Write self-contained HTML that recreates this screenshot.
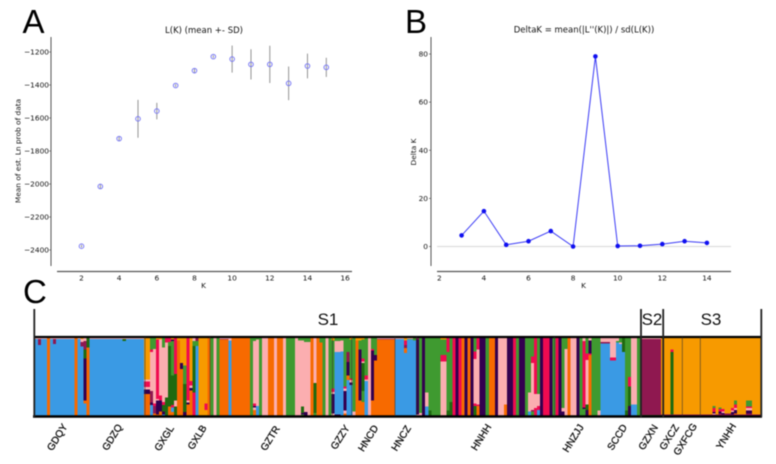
<!DOCTYPE html>
<html>
<head>
<meta charset="utf-8">
<style>
html,body{margin:0;padding:0;background:#fff;}
svg{display:block;filter:blur(0.4px);}
.ax{font-family:"DejaVu Sans",sans-serif;font-size:7.4px;fill:#111;}
.ttl{font-family:"DejaVu Sans",sans-serif;font-size:8.5px;fill:#111;}
.big{font-family:"Liberation Sans",sans-serif;font-size:33px;fill:#000;}
.grp{font-family:"Liberation Sans",sans-serif;font-size:17px;fill:#111;}
.pop{font-family:"Liberation Sans",sans-serif;font-size:10px;fill:#111;text-anchor:middle;stroke:#111;stroke-width:0.3px;}
</style>
</head>
<body>
<svg id="fig" width="776" height="464" viewBox="0 0 776 464" xmlns="http://www.w3.org/2000/svg">
<rect width="776" height="464" fill="#fff"/>
<text class="big" x="22.5" y="33">A</text>
<text class="big" x="405" y="33">B</text>
<text class="big" x="23" y="303">C</text>
<text class="ttl" x="204" y="33" text-anchor="middle">L(K) (mean +- SD)</text>
<text class="ttl" x="584" y="32.5" text-anchor="middle">DeltaK = mean(|L''(K)|) / sd(L(K))</text>
<text class="ax" x="203.5" y="288" text-anchor="middle">K</text>
<text class="ax" x="583.5" y="288" text-anchor="middle">K</text>
<text class="ax" transform="translate(20.5,151) rotate(-90)" text-anchor="middle">Mean of est. Ln prob of data</text>
<text class="ax" transform="translate(416,152) rotate(-90)" text-anchor="middle">Delta K</text>
<g id="chartA"></g>
<g id="chartB"></g>
<g id="chartC"></g>
<g fill="none" stroke="#000">
<line x1="34" y1="337" x2="762" y2="337" stroke-width="2.2"/>
<line x1="33" y1="416.5" x2="762" y2="416.5" stroke-width="2.6"/>
<line x1="34.3" y1="309" x2="34.3" y2="417" stroke-width="1.8" stroke="#222"/>
<line x1="641" y1="309" x2="641" y2="417" stroke-width="1.8" stroke="#222"/>
<line x1="663.2" y1="309" x2="663.2" y2="417" stroke-width="1.8" stroke="#222"/>
<line x1="761.3" y1="309" x2="761.3" y2="417" stroke-width="1.8" stroke="#222"/>
<g stroke="#333" stroke-width="0.7" opacity="0.8">
<line x1="145" y1="337" x2="145" y2="416"/>
<line x1="210" y1="337" x2="210" y2="416"/>
<line x1="332.5" y1="337" x2="332.5" y2="416"/>
<line x1="351.7" y1="337" x2="351.7" y2="416"/>
<line x1="395" y1="337" x2="395" y2="416"/>
<line x1="416.7" y1="337" x2="416.7" y2="416"/>
<line x1="554.5" y1="337" x2="554.5" y2="416"/>
<line x1="682.3" y1="337" x2="682.3" y2="416"/>
<line x1="700.3" y1="337" x2="700.3" y2="416"/>
</g>
</g>
<text class="grp" x="328" y="325" text-anchor="middle">S1</text>
<text class="grp" x="652" y="325" text-anchor="middle">S2</text>
<text class="grp" x="711" y="325" text-anchor="middle">S3</text>
<g>
<text class="pop" transform="translate(60,439) rotate(-58)">GDQY</text>
<text class="pop" transform="translate(115,439) rotate(-58)">GDZQ</text>
<text class="pop" transform="translate(167,440) rotate(-58)">GXGL</text>
<text class="pop" transform="translate(200,439) rotate(-58)">GXLB</text>
<text class="pop" transform="translate(273,440) rotate(-58)">GZTR</text>
<text class="pop" transform="translate(343,439) rotate(-58)">GZZY</text>
<text class="pop" transform="translate(371,440) rotate(-58)">HNCD</text>
<text class="pop" transform="translate(404,440) rotate(-58)">HNCZ</text>
<text class="pop" transform="translate(484,439) rotate(-58)">HNHH</text>
<text class="pop" transform="translate(576,440) rotate(-58)">HNZJJ</text>
<text class="pop" transform="translate(620,439) rotate(-58)">SCCD</text>
<text class="pop" transform="translate(651,439) rotate(-58)">GZXN</text>
<text class="pop" transform="translate(672,439) rotate(-58)">GXCZ</text>
<text class="pop" transform="translate(688,441) rotate(-58)">GXFCG</text>
<text class="pop" transform="translate(729,438) rotate(-58)">YNHH</text>
</g>
</svg>
<script>
const kValuesA = [2,3,4,5,6,7,8,9,10,11,12,13,14,15];
const meanLnProb = [-2377,-2015,-1725,-1605,-1558,-1403,-1313,-1228,-1243,-1275,-1275,-1390,-1285,-1293];
const sdLnProb = [8,15,12,115,50,8,12,8,82,92,113,102,75,58];
const xTicksA = [2,4,6,8,10,12,14,16];
const yTicksA = [-1200,-1400,-1600,-1800,-2000,-2200,-2400];

const kValuesB = [3,4,5,6,7,8,9,10,11,12,13,14];
const deltaK = [4.6,14.7,0.7,2.2,6.4,0,79,0.2,0.3,1,2.2,1.5];
const xTicksB = [2,4,6,8,10,12,14];
const yTicksB = [0,20,40,60,80];

/* each run: number of individuals, then ancestry percentages listed from the top of the bar */
const runsGdqyGdzq = [[1,'p1 b99'],[1,'p1 m8 b91'],[2,'p1 b99'],[1,'o100'],[1,'p1 b99'],[1,'p1 m7 b92'],[6,'p1 b99'],[1,'o100'],[1,'p1 b99'],[1,'y1 p4 m6 b89'],[1,'p4 m11 d11 n54 o4 b16'],[1,'d12 o88'],[11,'p1.5 b98.5'],[1,'p1 d3 b96'],[6,'p1 b99']];
const runsGxglGxlb = [[2,'y53 p3 r7 p3 n6 o28'],[1,'g15 r3 p50 m15 n3 b14'],[1,'g14 p70 r3 m10 o3'],[1,'y2 r76 p2 n18 o2'],[1,'y2 p72 r6 n14 o6'],[1,'g12 p70 r4 d8 n4 b2'],[1,'r6 p70 d24'],[1,'r5 g5 d78 o12'],[1,'y2 n2 g44 d38 r3 b6 o5'],[1,'r46 d34 p8 d12'],[1,'y3 o97'],[1,'y32 n8 o60'],[1,'y35 g24 d36 n5'],[1,'r80 p3 n2 o15'],[1,'y55 r6 p3 n3 o33'],[1,'p4 g6 d60 r30'],[1,'m4 g6 b90'],[2,'y100'],[1,'y84 r8 y8'],[1,'o100']];
const runsGztr = [[1,'g100'],[1,'p100'],[1,'g100'],[3,'p1 m1 o98'],[1,'p3 b97'],[6,'o100'],[1,'g100'],[1,'g4 p80 r3 n2 p3 o8'],[1,'g2 p85 b13'],[1,'g100'],[2,'p100'],[2,'o100'],[1,'p100'],[2,'o100'],[1,'p100'],[2,'g100'],[1,'g100'],[1,'p100'],[1,'g3 p97'],[1,'g3 p85 d8 n2 g2'],[1,'g5 p90 n5'],[1,'g5 p95'],[1,'o100'],[1,'p58 d38 g4'],[1,'o100'],[1,'g6 o94'],[1,'g100'],[1,'p100'],[1,'g100']];
const runsGzzyHncd = [[1,'y3 g62 r4 p3 n25 p3'],[2,'g4 p14 b80 n2'],[1,'g3 p14 b83'],[1,'g62 r3 p3 n25 p4 o3'],[1,'g18 m13 n17 o6 b46'],[1,'y2 g50 r2 p3 n3 b40'],[1,'g94 p6'],[1,'y3 o97'],[1,'y3 g12 n65 o20'],[1,'y2 g24 r4 p2 d36 g14 o18'],[1,'g48 r5 p2 b45'],[1,'p100'],[1,'g14 r2 n64 o20'],[1,'g22 n7 o71'],[6,'p1 m1 o98']];
const runsHncz = [[3,'p1 b99'],[1,'y3 r6 m4 o6 b81'],[2,'p1 g1 b98'],[1,'g3 b97']];
const runsHnhh = [[1,'m2 n96 p2'],[1,'g96 p4'],[1,'n100'],[1,'g70 p18 b12'],[1,'g93 d7'],[3,'g100'],[2,'y2 g20 r8 p70'],[1,'r18 g75 d7'],[1,'g82 d18'],[1,'r100'],[1,'n100'],[1,'r100'],[1,'o100'],[1,'n100'],[1,'o100'],[1,'n100'],[1,'g17 r10 p57 r3 d13'],[1,'r15 p70 r2 o13'],[2,'n100'],[1,'g100'],[2,'o100'],[1,'n100'],[2,'p100'],[1,'p85 o15'],[2,'n100'],[1,'r100'],[1,'g100'],[2,'n100'],[1,'g100'],[1,'g70 p24 b6'],[1,'g24 r8 p60 m2 g6'],[1,'r72 p18 r10'],[1,'g72 p15 r5 b8'],[1,'n100'],[2,'r100'],[1,'n100']];
const runsHnzjjSccd = [[1,'g100'],[1,'r100'],[1,'n100'],[1,'g90 p4 n6'],[1,'g14 p86'],[1,'o100'],[2,'p100'],[1,'n100'],[1,'g100'],[1,'p4 r85 n2 g9'],[1,'g20 r8 p57 d7 n8'],[1,'p3 n17 r2 o78'],[2,'g100'],[1,'g93 p7'],[3,'p5 m2 b93'],[2,'p25 r4 b71'],[1,'p4 g2 b94'],[1,'g6 p2 b92'],[1,'d18 b82'],[1,'g93 d7'],[1,'g50 r12 d25 n13'],[2,'p85 b15'],[1,'g100']];
const runsGzxn = [[7,'p1 m98 d1']];
const runsS3 = [[3,'y98 m2'],[1,'y15 r3 d80 m2'],[13,'y98 m2'],[1,'y87 g3 r5 n2 p1 m2'],[1,'y98 m2'],[1,'y89 g2 r3 n3 m3'],[1,'y91 r3 p2 n2 m2'],[2,'y97 m3'],[1,'y90 r3 p2 n3 m2'],[1,'y80 g5 r5 p2 n5 o1 m2'],[3,'y98 m2'],[2,'y80 g8 r2 p3 n4 m3'],[3,'y98 m2']];

const NS = 'http://www.w3.org/2000/svg';
function mk(parent, tag, attrs, txt) {
  const el = document.createElementNS(NS, tag);
  for (const k in attrs) el.setAttribute(k, attrs[k]);
  if (txt !== undefined) el.textContent = txt;
  parent.appendChild(el);
  return el;
}

/* panel A */
const xA = k => 81.5 + (k - 2) * 18.83;
const yA = v => 52 + (-1200 - v) * 0.165;
const gA = document.getElementById('chartA');
const spineAY = mk(gA, 'line', {x1:51, y1:37, x2:51, y2:266, stroke:'#555', 'stroke-width':1});


const spineAX = mk(gA, 'line', {x1:57, y1:271.5, x2:352, y2:271.5, stroke:'#555', 'stroke-width':1.3});


xTicksA.forEach(t => {
  const lab = mk(gA, 'text', {class:'ax', x:xA(t), y:280.5, 'text-anchor':'middle'}, String(t));
  
  
});
yTicksA.forEach(t => {
  const tick = mk(gA, 'line', {x1:49, x2:51, y1:yA(t), y2:yA(t), stroke:'#555', 'stroke-width':0.7});
  
  
  const lab = mk(gA, 'text', {class:'ax', x:49, y:yA(t) + 2.6, 'text-anchor':'end'}, String(t).replace('-', '\u2212'));
  
  
});
kValuesA.forEach((k, i) => {
  const bar = mk(gA, 'line', {x1:xA(k), x2:xA(k), y1:yA(meanLnProb[i] + sdLnProb[i]), y2:yA(meanLnProb[i] - sdLnProb[i]), stroke:'#888', 'stroke-width':0.9});
  
  
  const pt = mk(gA, 'circle', {cx:xA(k), cy:yA(meanLnProb[i]), r:2.3, fill:'none', stroke:'#7a7af5', 'stroke-width':1});
  
  
});

/* panel B */
const xB = k => 439.3 + (k - 2) * 22.3;
const yB = v => 246.5 - v * 2.406;
const gB = document.getElementById('chartB');
const spineBY = mk(gB, 'line', {x1:431, y1:37, x2:431, y2:266, stroke:'#555', 'stroke-width':1});


const spineBX = mk(gB, 'line', {x1:437, y1:271.5, x2:731, y2:271.5, stroke:'#555', 'stroke-width':1.3});


const zeroB = mk(gB, 'line', {x1:437, y1:yB(0), x2:731, y2:yB(0), stroke:'#ddd', 'stroke-width':1.2});


xTicksB.forEach(t => {
  const lab = mk(gB, 'text', {class:'ax', x:xB(t), y:280.5, 'text-anchor':'middle'}, String(t));
  
  
});
yTicksB.forEach(t => {
  const tick = mk(gB, 'line', {x1:429, x2:431, y1:yB(t), y2:yB(t), stroke:'#555', 'stroke-width':0.7});
  
  
  const lab = mk(gB, 'text', {class:'ax', x:428, y:yB(t) + 2.6, 'text-anchor':'end'}, String(t));
  
  
});
const lineB = mk(gB, 'polyline', {points:kValuesB.map((k, i) => xB(k) + ',' + yB(deltaK[i])).join(' '), fill:'none', stroke:'#3a3af5', 'stroke-width':1});


kValuesB.forEach((k, i) => {
  const pt = mk(gB, 'circle', {cx:xB(k), cy:yB(deltaK[i]), r:2.3, fill:'#1010f0'});
  
  
});

/* panel C */
const ancestryColors = {b:'#3a9ae4', o:'#f76a00', y:'#f79a00', g:'#3f9a30', d:'#1f6a10', p:'#fbaeb0', r:'#f00a50', n:'#33004f', m:'#8f1850'};
const allRuns = [].concat(runsGdqyGdzq, runsGxglGxlb, runsGztr, runsGzzyHncd, runsHncz, runsHnhh, runsHnzjjSccd, runsGzxn, runsS3);
const totalInd = allRuns.reduce((s, r) => s + r[0], 0);
const plotX0 = 35, plotW = 726, plotY0 = 338, plotH = 78;
const xC = i => plotX0 + i / totalInd * plotW;
const yC = f => plotY0 + f / 100 * plotH;
const gC = document.getElementById('chartC');
gC.setAttribute('shape-rendering', 'crispEdges');
let idx = 0;
allRuns.forEach(run => {
  const n = run[0];
  const parts = run[1].split(' ').map(s => [s[0], parseFloat(s.slice(1))]);
  const total = parts.reduce((s, p) => s + p[1], 0);
  let acc = 0;
  parts.forEach(p => {
    const frac = p[1] / total * 100;
    const seg = mk(gC, 'rect', {x:xC(idx), y:yC(acc), width:xC(idx + n) - xC(idx) + 0.3, height:frac / 100 * plotH + 0.3, fill:ancestryColors[p[0]]});
    
    
    acc += frac;
  });
  idx += n;
});
</script>
</body>
</html>
